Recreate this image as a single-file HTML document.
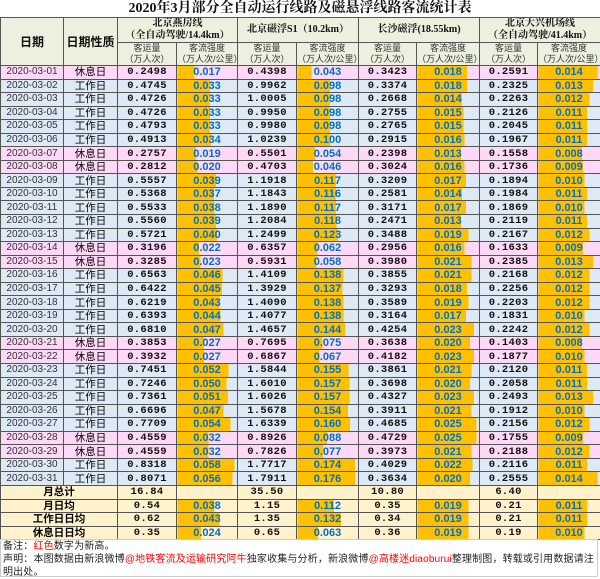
<!DOCTYPE html>
<html><head><meta charset="utf-8"><style>
body{margin:0;width:600px;height:578px;background:#fff;overflow:hidden;font-family:"Liberation Sans","Noto Sans CJK SC",sans-serif}
table{border-collapse:collapse;table-layout:fixed;width:600px;position:absolute;left:0;top:17px}
td{border:1px solid #555;padding:0;text-align:center;white-space:nowrap;overflow:hidden;line-height:12px}
.t{position:absolute;left:0;top:0;width:600px;height:17px;text-align:center;font:bold 14px/17px "Liberation Serif","Noto Serif CJK SC",serif;color:#111}
.h td{background:#ebf1de;color:#111}
.h1 td{height:23px;font-size:10px;font-weight:bold;font-family:"Liberation Serif","Noto Serif CJK SC",serif}
.h2 td{height:22px;font-size:9px;line-height:11px;color:#333}
.big{font-size:12px!important;font-weight:bold;font-family:"Liberation Sans","Noto Sans CJK SC",sans-serif!important}
tr.w td{background-color:#dde9f5}
tr.x td{background-color:#fdd9f7}
tr.s td{background-color:#fff2cc;font-weight:bold}
tr.w td,tr.x td,tr.s td{height:12.55px;font-size:10.5px}
.d{color:#333;font-size:10px!important}
.v{font-family:"Liberation Mono",monospace;font-weight:bold;color:#111;letter-spacing:.3px}
.b{background-image:linear-gradient(90deg,#ffc000 var(--w),transparent var(--w));color:#0070c0;font-weight:bold;font-size:11px!important}
.n{position:absolute;left:0;top:539px;width:598px;height:38px;border:1px solid #ccc;font-size:10px;letter-spacing:.15px;line-height:13px;color:#222;padding-left:2px;box-sizing:border-box}
.r{color:#f00}
</style></head><body>
<div class="t">2020年3月部分全自动运行线路及磁悬浮线路客流统计表</div>
<table>
<colgroup><col style="width:63px"><col style="width:54px"><col style="width:59px"><col style="width:61px"><col style="width:59px"><col style="width:62px"><col style="width:58px"><col style="width:63px"><col style="width:58px"><col style="width:63px"></colgroup>
<tr class="h h1"><td rowspan="2" class="big">日期</td><td rowspan="2" class="big">日期性质</td><td colspan="2">北京燕房线<br>（全自动驾驶/14.4km）</td><td colspan="2">北京磁浮S1（10.2km）</td><td colspan="2">长沙磁浮(18.55km)</td><td colspan="2">北京大兴机场线<br>（全自动驾驶/41.4km）</td></tr>
<tr class="h h2"><td>客运量<br>（万人次）</td><td>客流强度<br>（万人次/公里）</td><td>客运量<br>（万人次）</td><td>客流强度<br>（万人次/公里）</td><td>客运量<br>（万人次）</td><td>客流强度<br>（万人次/公里）</td><td>客运量<br>（万人次）</td><td>客流强度<br>（万人次/公里）</td></tr>
<tr class="x"><td class="d">2020-03-01</td><td>休息日</td><td class="v">0.2498</td><td class="b" style="--w:28%">0.017</td><td class="v">0.4398</td><td class="b" style="--w:23%">0.043</td><td class="v">0.3423</td><td class="b" style="--w:80%">0.018</td><td class="v">0.2591</td><td class="b" style="--w:95%">0.014</td></tr>
<tr class="w"><td class="d">2020-03-02</td><td>工作日</td><td class="v">0.4745</td><td class="b" style="--w:54%">0.033</td><td class="v">0.9962</td><td class="b" style="--w:53%">0.098</td><td class="v">0.3374</td><td class="b" style="--w:80%">0.018</td><td class="v">0.2325</td><td class="b" style="--w:88%">0.013</td></tr>
<tr class="w"><td class="d">2020-03-03</td><td>工作日</td><td class="v">0.4726</td><td class="b" style="--w:54%">0.033</td><td class="v">1.0005</td><td class="b" style="--w:53%">0.098</td><td class="v">0.2668</td><td class="b" style="--w:72%">0.014</td><td class="v">0.2263</td><td class="b" style="--w:82%">0.012</td></tr>
<tr class="w"><td class="d">2020-03-04</td><td>工作日</td><td class="v">0.4726</td><td class="b" style="--w:54%">0.033</td><td class="v">0.9950</td><td class="b" style="--w:53%">0.098</td><td class="v">0.2755</td><td class="b" style="--w:74%">0.015</td><td class="v">0.2126</td><td class="b" style="--w:78%">0.011</td></tr>
<tr class="w"><td class="d">2020-03-05</td><td>工作日</td><td class="v">0.4793</td><td class="b" style="--w:54%">0.033</td><td class="v">0.9980</td><td class="b" style="--w:53%">0.098</td><td class="v">0.2765</td><td class="b" style="--w:74%">0.015</td><td class="v">0.2045</td><td class="b" style="--w:78%">0.011</td></tr>
<tr class="w"><td class="d">2020-03-06</td><td>工作日</td><td class="v">0.4913</td><td class="b" style="--w:56%">0.034</td><td class="v">1.0239</td><td class="b" style="--w:54%">0.100</td><td class="v">0.2915</td><td class="b" style="--w:76%">0.016</td><td class="v">0.1967</td><td class="b" style="--w:78%">0.011</td></tr>
<tr class="x"><td class="d">2020-03-07</td><td>休息日</td><td class="v">0.2757</td><td class="b" style="--w:31%">0.019</td><td class="v">0.5501</td><td class="b" style="--w:29%">0.054</td><td class="v">0.2398</td><td class="b" style="--w:70%">0.013</td><td class="v">0.1558</td><td class="b" style="--w:70%">0.008</td></tr>
<tr class="x"><td class="d">2020-03-08</td><td>休息日</td><td class="v">0.2812</td><td class="b" style="--w:33%">0.020</td><td class="v">0.4703</td><td class="b" style="--w:25%">0.046</td><td class="v">0.3024</td><td class="b" style="--w:76%">0.016</td><td class="v">0.1736</td><td class="b" style="--w:72%">0.009</td></tr>
<tr class="w"><td class="d">2020-03-09</td><td>工作日</td><td class="v">0.5557</td><td class="b" style="--w:64%">0.039</td><td class="v">1.1918</td><td class="b" style="--w:63%">0.117</td><td class="v">0.3209</td><td class="b" style="--w:78%">0.017</td><td class="v">0.1894</td><td class="b" style="--w:74%">0.010</td></tr>
<tr class="w"><td class="d">2020-03-10</td><td>工作日</td><td class="v">0.5368</td><td class="b" style="--w:61%">0.037</td><td class="v">1.1843</td><td class="b" style="--w:63%">0.116</td><td class="v">0.2581</td><td class="b" style="--w:72%">0.014</td><td class="v">0.1984</td><td class="b" style="--w:78%">0.011</td></tr>
<tr class="w"><td class="d">2020-03-11</td><td>工作日</td><td class="v">0.5533</td><td class="b" style="--w:62%">0.038</td><td class="v">1.1890</td><td class="b" style="--w:63%">0.117</td><td class="v">0.3171</td><td class="b" style="--w:78%">0.017</td><td class="v">0.1869</td><td class="b" style="--w:74%">0.010</td></tr>
<tr class="w"><td class="d">2020-03-12</td><td>工作日</td><td class="v">0.5560</td><td class="b" style="--w:64%">0.039</td><td class="v">1.2084</td><td class="b" style="--w:64%">0.118</td><td class="v">0.2471</td><td class="b" style="--w:70%">0.013</td><td class="v">0.2119</td><td class="b" style="--w:78%">0.011</td></tr>
<tr class="w"><td class="d">2020-03-13</td><td>工作日</td><td class="v">0.5721</td><td class="b" style="--w:66%">0.040</td><td class="v">1.2499</td><td class="b" style="--w:66%">0.123</td><td class="v">0.3488</td><td class="b" style="--w:82%">0.019</td><td class="v">0.2167</td><td class="b" style="--w:82%">0.012</td></tr>
<tr class="x"><td class="d">2020-03-14</td><td>休息日</td><td class="v">0.3196</td><td class="b" style="--w:36%">0.022</td><td class="v">0.6357</td><td class="b" style="--w:33%">0.062</td><td class="v">0.2956</td><td class="b" style="--w:76%">0.016</td><td class="v">0.1633</td><td class="b" style="--w:72%">0.009</td></tr>
<tr class="x"><td class="d">2020-03-15</td><td>休息日</td><td class="v">0.3285</td><td class="b" style="--w:38%">0.023</td><td class="v">0.5931</td><td class="b" style="--w:31%">0.058</td><td class="v">0.3980</td><td class="b" style="--w:87%">0.021</td><td class="v">0.2385</td><td class="b" style="--w:88%">0.013</td></tr>
<tr class="w"><td class="d">2020-03-16</td><td>工作日</td><td class="v">0.6563</td><td class="b" style="--w:75%">0.046</td><td class="v">1.4109</td><td class="b" style="--w:75%">0.138</td><td class="v">0.3855</td><td class="b" style="--w:87%">0.021</td><td class="v">0.2168</td><td class="b" style="--w:82%">0.012</td></tr>
<tr class="w"><td class="d">2020-03-17</td><td>工作日</td><td class="v">0.6422</td><td class="b" style="--w:74%">0.045</td><td class="v">1.3929</td><td class="b" style="--w:74%">0.137</td><td class="v">0.3293</td><td class="b" style="--w:80%">0.018</td><td class="v">0.2256</td><td class="b" style="--w:82%">0.012</td></tr>
<tr class="w"><td class="d">2020-03-18</td><td>工作日</td><td class="v">0.6219</td><td class="b" style="--w:70%">0.043</td><td class="v">1.4090</td><td class="b" style="--w:75%">0.138</td><td class="v">0.3589</td><td class="b" style="--w:82%">0.019</td><td class="v">0.2203</td><td class="b" style="--w:82%">0.012</td></tr>
<tr class="w"><td class="d">2020-03-19</td><td>工作日</td><td class="v">0.6393</td><td class="b" style="--w:72%">0.044</td><td class="v">1.4077</td><td class="b" style="--w:75%">0.138</td><td class="v">0.3164</td><td class="b" style="--w:78%">0.017</td><td class="v">0.1831</td><td class="b" style="--w:74%">0.010</td></tr>
<tr class="w"><td class="d">2020-03-20</td><td>工作日</td><td class="v">0.6810</td><td class="b" style="--w:77%">0.047</td><td class="v">1.4657</td><td class="b" style="--w:78%">0.144</td><td class="v">0.4254</td><td class="b" style="--w:91%">0.023</td><td class="v">0.2242</td><td class="b" style="--w:82%">0.012</td></tr>
<tr class="x"><td class="d">2020-03-21</td><td>休息日</td><td class="v">0.3853</td><td class="b" style="--w:44%">0.027</td><td class="v">0.7695</td><td class="b" style="--w:41%">0.075</td><td class="v">0.3638</td><td class="b" style="--w:85%">0.020</td><td class="v">0.1403</td><td class="b" style="--w:70%">0.008</td></tr>
<tr class="x"><td class="d">2020-03-22</td><td>休息日</td><td class="v">0.3932</td><td class="b" style="--w:44%">0.027</td><td class="v">0.6867</td><td class="b" style="--w:36%">0.067</td><td class="v">0.4182</td><td class="b" style="--w:91%">0.023</td><td class="v">0.1877</td><td class="b" style="--w:74%">0.010</td></tr>
<tr class="w"><td class="d">2020-03-23</td><td>工作日</td><td class="v">0.7451</td><td class="b" style="--w:85%">0.052</td><td class="v">1.5844</td><td class="b" style="--w:84%">0.155</td><td class="v">0.3861</td><td class="b" style="--w:87%">0.021</td><td class="v">0.2120</td><td class="b" style="--w:78%">0.011</td></tr>
<tr class="w"><td class="d">2020-03-24</td><td>工作日</td><td class="v">0.7246</td><td class="b" style="--w:82%">0.050</td><td class="v">1.6010</td><td class="b" style="--w:85%">0.157</td><td class="v">0.3698</td><td class="b" style="--w:85%">0.020</td><td class="v">0.2058</td><td class="b" style="--w:78%">0.011</td></tr>
<tr class="w"><td class="d">2020-03-25</td><td>工作日</td><td class="v">0.7361</td><td class="b" style="--w:84%">0.051</td><td class="v">1.6026</td><td class="b" style="--w:85%">0.157</td><td class="v">0.4327</td><td class="b" style="--w:91%">0.023</td><td class="v">0.2493</td><td class="b" style="--w:88%">0.013</td></tr>
<tr class="w"><td class="d">2020-03-26</td><td>工作日</td><td class="v">0.6696</td><td class="b" style="--w:77%">0.047</td><td class="v">1.5678</td><td class="b" style="--w:83%">0.154</td><td class="v">0.3911</td><td class="b" style="--w:87%">0.021</td><td class="v">0.1912</td><td class="b" style="--w:74%">0.010</td></tr>
<tr class="w"><td class="d">2020-03-27</td><td>工作日</td><td class="v">0.7709</td><td class="b" style="--w:88%">0.054</td><td class="v">1.6339</td><td class="b" style="--w:86%">0.160</td><td class="v">0.4685</td><td class="b" style="--w:95%">0.025</td><td class="v">0.2156</td><td class="b" style="--w:82%">0.012</td></tr>
<tr class="x"><td class="d">2020-03-28</td><td>休息日</td><td class="v">0.4559</td><td class="b" style="--w:52%">0.032</td><td class="v">0.8926</td><td class="b" style="--w:48%">0.088</td><td class="v">0.4729</td><td class="b" style="--w:95%">0.025</td><td class="v">0.1755</td><td class="b" style="--w:72%">0.009</td></tr>
<tr class="x"><td class="d">2020-03-29</td><td>休息日</td><td class="v">0.4559</td><td class="b" style="--w:52%">0.032</td><td class="v">0.7826</td><td class="b" style="--w:42%">0.077</td><td class="v">0.3973</td><td class="b" style="--w:87%">0.021</td><td class="v">0.2188</td><td class="b" style="--w:82%">0.012</td></tr>
<tr class="w"><td class="d">2020-03-30</td><td>工作日</td><td class="v">0.8318</td><td class="b" style="--w:95%">0.058</td><td class="v">1.7717</td><td class="b" style="--w:94%">0.174</td><td class="v">0.4029</td><td class="b" style="--w:89%">0.022</td><td class="v">0.2116</td><td class="b" style="--w:78%">0.011</td></tr>
<tr class="w"><td class="d">2020-03-31</td><td>工作日</td><td class="v">0.8071</td><td class="b" style="--w:92%">0.056</td><td class="v">1.7911</td><td class="b" style="--w:95%">0.176</td><td class="v">0.3634</td><td class="b" style="--w:85%">0.020</td><td class="v">0.2555</td><td class="b" style="--w:95%">0.014</td></tr>
<tr class="s"><td colspan="2">月总计</td><td class="v">16.84</td><td></td><td class="v">35.50</td><td></td><td class="v">10.80</td><td></td><td class="v">6.40</td><td></td></tr>
<tr class="s"><td colspan="2">月日均</td><td class="v">0.54</td><td class="b" style="--w:62%">0.038</td><td class="v">1.15</td><td class="b" style="--w:60%">0.112</td><td class="v">0.35</td><td class="b" style="--w:82%">0.019</td><td class="v">0.21</td><td class="b" style="--w:78%">0.011</td></tr>
<tr class="s"><td colspan="2">工作日日均</td><td class="v">0.62</td><td class="b" style="--w:70%">0.043</td><td class="v">1.35</td><td class="b" style="--w:71%">0.132</td><td class="v">0.34</td><td class="b" style="--w:82%">0.019</td><td class="v">0.21</td><td class="b" style="--w:78%">0.011</td></tr>
<tr class="s"><td colspan="2">休息日日均</td><td class="v">0.35</td><td class="b" style="--w:39%">0.024</td><td class="v">0.65</td><td class="b" style="--w:34%">0.063</td><td class="v">0.36</td><td class="b" style="--w:82%">0.019</td><td class="v">0.19</td><td class="b" style="--w:74%">0.010</td></tr>
</table>
<div class="n">备注：<span class="r">红色</span>数字为新高。<br>声明：本图数据由新浪微博<span class="r">@地铁客流及运输研究阿牛</span>独家收集与分析，新浪微博<span class="r">@高楼迷diaoburui</span>整理制图，转载或引用数据请注明出处。</div>
</body></html>
